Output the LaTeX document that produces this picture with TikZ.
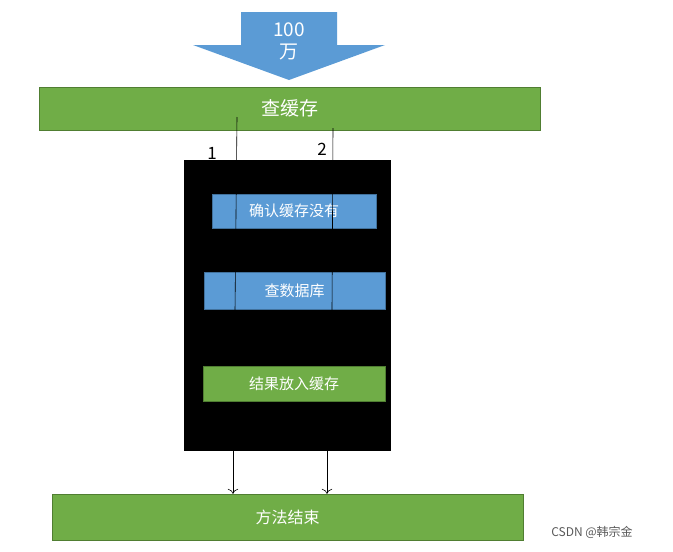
\documentclass[tikz,border=0pt]{standalone}
\usepackage{fontspec}
\setmainfont{Noto Sans CJK SC}
\usetikzlibrary{arrows.meta}
\definecolor{gr}{HTML}{70AD47}
\definecolor{grb}{HTML}{507E32}
\definecolor{bl}{HTML}{5B9BD5}
\definecolor{blb}{HTML}{41719C}
\begin{document}
\begin{tikzpicture}[x=1pt,y=-1pt,
  gbox/.style={draw=grb,fill=gr,text=white,inner sep=0pt},
  bbox/.style={draw=blb,fill=bl,text=white,inner sep=0pt},
  ln/.style={black,line width=0.6pt}]
\useasboundingbox (0,0) rectangle (673,552);
\fill[bl] (241,12) -- (337,12) -- (337,45) -- (385,45) -- (289,80) -- (193,45) -- (241,45) -- cycle;
\node[text=white,font=\fontsize{19}{22}\selectfont,align=center] (arr) at (289,41) {100\\万};
\node[gbox,minimum width=501pt,minimum height=43pt,font=\fontsize{19}{22}\selectfont] (cache) at (289.5,108.5) {查缓存};
\node[fill=black,minimum width=207pt,minimum height=291pt,inner sep=0pt] (blk) at (287.5,305.5) {};
\node[bbox,minimum width=164pt,minimum height=34pt,font=\fontsize{15}{18}\selectfont] (b1) at (294,211) {确认缓存没有};
\node[bbox,minimum width=181pt,minimum height=37pt,font=\fontsize{15}{18}\selectfont] (b2) at (294.5,290.5) {查数据库};
\node[gbox,minimum width=182pt,minimum height=35pt,font=\fontsize{15}{18}\selectfont] (b3) at (294,383.5) {结果放入缓存};
\node[gbox,minimum width=471pt,minimum height=46pt,font=\fontsize{16}{19}\selectfont] (end) at (287.5,517) {方法结束};
\node[font=\fontsize{17}{20}\selectfont] (l1) at (212,153) {1};
\node[font=\fontsize{17}{20}\selectfont] (l2) at (322,149) {2};
\coordinate (s1) at (237,117); \coordinate (e1) at (235,311);
\coordinate (s2) at (333,128); \coordinate (e2) at (332,311);
\draw[ln] (s1) -- (e1);
\draw[ln] (s2) -- (e2);
\draw[ln,-{To[length=5pt]}] (blk.south -| 233,0) -- (end.north -| 233,0);
\draw[ln,-{To[length=5pt]}] (blk.south -| 327,0) -- (end.north -| 327,0);
\node[text=gray!70!black,font=\fontsize{12}{14}\selectfont] (wm) at (592,532) {CSDN @韩宗金};
\end{tikzpicture}
\end{document}
